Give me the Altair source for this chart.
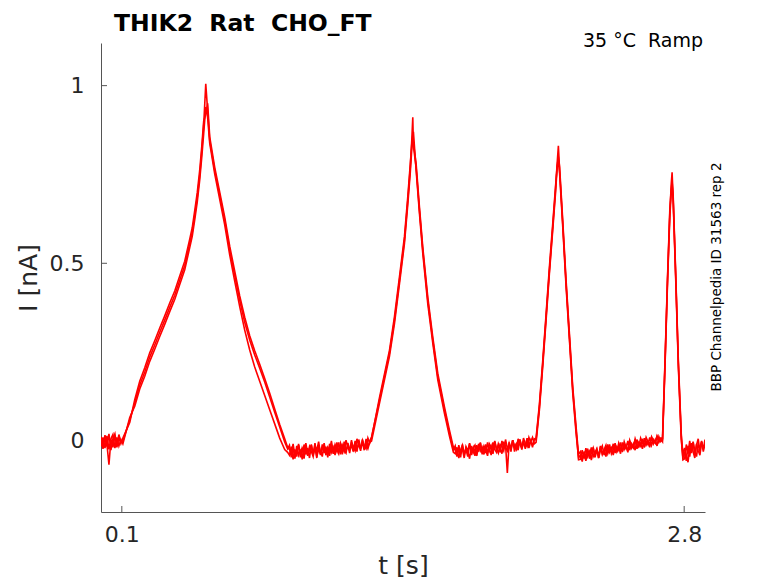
import altair as alt
import numpy as np
import pandas as pd

TITLE = "THIK2\u00a0\u00a0Rat\u00a0\u00a0CHO_FT"
TEMP_LABEL = "35 °C\u00a0\u00a0Ramp"
SIDE_LABEL = "BBP Channelpedia ID 31563 rep 2"
X_TICKS = [0.1, 2.8]
Y_TICKS = [0, 0.5, 1]
X_DOMAIN = [0.0, 2.9]
Y_DOMAIN = [-0.2, 1.12]

# ramp key points (time in s), shared by the sweeps
R1_T = [0.105, 0.138, 0.162, 0.186, 0.210, 0.234, 0.258, 0.282, 0.306, 0.330,
        0.354, 0.378, 0.402, 0.426, 0.438, 0.450, 0.462, 0.474, 0.484, 0.493,
        0.503, 0.512, 0.522, 0.546, 0.570, 0.594, 0.618, 0.642, 0.666, 0.690,
        0.714, 0.738, 0.762, 0.786, 0.810, 0.834, 0.858, 0.882, 0.896]
R2_T = [1.299, 1.337, 1.385, 1.409, 1.433, 1.457, 1.473, 1.485, 1.492, 1.497,
        1.500, 1.513, 1.529, 1.545, 1.569, 1.593, 1.617, 1.649, 1.673, 1.692]
R3_T = [2.089, 2.105, 2.121, 2.137, 2.153, 2.169, 2.182, 2.190, 2.196, 2.202,
        2.217, 2.233, 2.249, 2.265, 2.281, 2.293]
R4_T = [2.696, 2.708, 2.720, 2.731, 2.738, 2.742, 2.747, 2.760, 2.772, 2.786, 2.794]

# baseline segments (start, end) in s
SEGMENTS = [(0.0, 0.105), (0.896, 1.299), (1.692, 2.089), (2.293, 2.696), (2.794, 2.9)]

# ---- sweep A ----
A_R1 = [0.00, 0.059, 0.107, 0.157, 0.194, 0.236, 0.27, 0.306, 0.34, 0.376,
        0.41, 0.452, 0.494, 0.556, 0.587, 0.635, 0.685, 0.747, 0.817, 0.888,
        1.005, 0.93, 0.846, 0.761, 0.691, 0.621, 0.537, 0.466, 0.396, 0.334,
        0.284, 0.242, 0.205, 0.166, 0.124, 0.081, 0.039, -0.003, -0.022]
A_R2 = [0.011, 0.115, 0.247, 0.34, 0.452, 0.565, 0.677, 0.77, 0.845, 0.911,
        0.83, 0.77, 0.649, 0.537, 0.396, 0.284, 0.181, 0.087, 0.022, -0.025]
A_R3 = [0.003, 0.096, 0.218, 0.349, 0.48, 0.602, 0.705, 0.78, 0.831, 0.761,
        0.611, 0.443, 0.293, 0.143, 0.031, -0.053]
A_R4 = [0.003, 0.218, 0.452, 0.64, 0.724, 0.756, 0.686, 0.452, 0.218, 0.012, -0.053]
A_B0 = [0.012, -0.014, 0.016, -0.01, -0.067, 0.004, -0.018, 0.014, -0.012, 0.018, -0.004]
A_B1 = [-0.012, -0.046, -0.018, -0.05, -0.014, -0.04, -0.024, -0.052, -0.01, -0.038,
        -0.02, -0.048, -0.012, -0.036, -0.006, -0.044, -0.02, -0.04, -0.01, -0.034,
        -0.016, -0.046, -0.008, -0.032, -0.018, -0.04, -0.004, -0.03, -0.014, -0.038,
        -0.002, -0.028, -0.012, -0.034, 0.002, -0.024, -0.008, -0.03, 0.004, -0.02,
        -0.006, -0.026, 0.006, -0.016, 0.0]
A_B2 = [-0.014, -0.04, -0.02, -0.046, -0.01, -0.036, -0.024, -0.044, -0.008, -0.032,
        -0.018, -0.042, -0.012, -0.03, -0.006, -0.038, -0.016, -0.034, -0.004, -0.028,
        -0.014, -0.036, -0.002, -0.026, -0.012, -0.032, 0.0, -0.022, -0.01, -0.09,
        -0.004, -0.024, 0.002, -0.018, -0.008, -0.026, 0.004, -0.016, -0.004, -0.022,
        0.008, -0.012, 0.002, -0.018, 0.006]
A_B3 = [-0.052, -0.026, -0.05, -0.02, -0.044, -0.03, -0.054, -0.018, -0.04, -0.024,
        -0.048, -0.014, -0.036, -0.026, -0.044, -0.01, -0.032, -0.02, -0.04, -0.006,
        -0.03, -0.016, -0.036, -0.004, -0.024, -0.012, -0.032, 0.0, -0.02, -0.008,
        -0.026, 0.004, -0.016, -0.006, -0.022, 0.008, -0.012, -0.002, -0.018, 0.01,
        -0.008, 0.004, -0.014, 0.012, -0.002]
A_B4 = [-0.05, -0.01, -0.036, 0.0, -0.032, -0.004, -0.04, -0.012, 0.006, -0.03,
        -0.002, -0.024, 0.004]

# ---- sweep B ----
B_R1 = [-0.008, 0.066, 0.098, 0.146, 0.182, 0.224, 0.258, 0.294, 0.328, 0.364,
        0.398, 0.44, 0.482, 0.544, 0.576, 0.622, 0.672, 0.735, 0.80, 0.865,
        0.94, 0.91, 0.838, 0.752, 0.68, 0.608, 0.524, 0.45, 0.378, 0.312,
        0.256, 0.208, 0.168, 0.128, 0.088, 0.048, 0.008, -0.024, -0.032]
B_R2 = [0.0, 0.106, 0.238, 0.33, 0.442, 0.556, 0.666, 0.756, 0.82, 0.85,
        0.87, 0.762, 0.64, 0.528, 0.386, 0.275, 0.172, 0.078, 0.014, -0.032]
B_R3 = [-0.004, 0.088, 0.21, 0.34, 0.472, 0.594, 0.695, 0.768, 0.79, 0.752,
        0.602, 0.434, 0.285, 0.135, 0.022, -0.048]
B_R4 = [-0.002, 0.21, 0.444, 0.63, 0.70, 0.72, 0.678, 0.444, 0.21, 0.004, -0.048]
B_B0 = [-0.016, 0.01, -0.02, 0.014, -0.024, 0.006, 0.018, -0.02, 0.01, -0.014, 0.004]
B_B1 = [-0.04, -0.016, -0.052, -0.024, -0.044, -0.008, -0.036, -0.02, -0.05, -0.014,
        -0.042, -0.026, -0.01, -0.04, -0.018, -0.048, -0.012, -0.03, -0.044, -0.006,
        -0.034, -0.022, -0.042, -0.01, -0.036, -0.016, -0.03, -0.004, -0.038, -0.012,
        -0.026, -0.034, -0.006, -0.024, -0.014, -0.03, 0.0, -0.022, -0.01, -0.028,
        0.004, -0.018, -0.008, -0.022, -0.004]
B_B2 = [-0.036, -0.018, -0.048, -0.026, -0.012, -0.04, -0.02, -0.03, -0.05, -0.014,
        -0.034, -0.022, -0.042, -0.008, -0.028, -0.018, -0.038, -0.01, -0.03, -0.02,
        -0.04, -0.004, -0.024, -0.032, -0.008, -0.02, -0.036, -0.002, -0.018, -0.028,
        -0.006, -0.022, 0.002, -0.03, -0.01, -0.016, 0.004, -0.024, -0.006, -0.014,
        0.006, -0.02, -0.002, 0.01, -0.008]
B_B3 = [-0.04, -0.058, -0.03, -0.046, -0.022, -0.05, -0.034, -0.02, -0.046, -0.028,
        -0.04, -0.016, -0.038, -0.024, -0.012, -0.036, -0.02, -0.03, -0.008, -0.034,
        -0.016, -0.026, -0.004, -0.03, -0.012, -0.022, 0.0, -0.026, -0.008, -0.018,
        0.004, -0.022, -0.004, -0.014, 0.006, -0.018, 0.0, -0.01, 0.01, -0.012,
        0.004, -0.006, 0.012, -0.004, 0.006]
B_B4 = [-0.03, -0.056, -0.014, -0.044, -0.006, -0.03, -0.048, -0.008, -0.026, -0.04,
        -0.004, -0.018, -0.01]

# ---- sweep C ----
C_R1 = [0.008, 0.052, 0.116, 0.168, 0.206, 0.248, 0.282, 0.318, 0.352, 0.388,
        0.422, 0.464, 0.506, 0.568, 0.6, 0.648, 0.698, 0.762, 0.83, 0.90,
        0.92, 0.95, 0.856, 0.77, 0.7, 0.63, 0.548, 0.478, 0.408, 0.348,
        0.296, 0.254, 0.216, 0.176, 0.134, 0.09, 0.046, 0.006, -0.018]
C_R2 = [0.008, 0.122, 0.255, 0.35, 0.462, 0.575, 0.688, 0.78, 0.835, 0.86,
        0.84, 0.78, 0.658, 0.545, 0.405, 0.292, 0.19, 0.096, 0.03, -0.018]
C_R3 = [0.008, 0.104, 0.226, 0.357, 0.49, 0.612, 0.714, 0.772, 0.80, 0.77,
        0.62, 0.452, 0.302, 0.152, 0.04, -0.038]
C_R4 = [0.008, 0.226, 0.46, 0.65, 0.71, 0.73, 0.694, 0.46, 0.226, 0.02, -0.038]
C_B0 = [0.004, -0.022, 0.012, -0.016, 0.02, -0.026, 0.006, 0.02, -0.018, 0.01, -0.008]
C_B1 = [-0.024, -0.034, -0.008, -0.042, -0.026, -0.012, -0.046, -0.02, -0.032, -0.006,
        -0.038, -0.016, -0.03, -0.044, -0.014, -0.026, -0.002, -0.036, -0.022, -0.012,
        -0.04, -0.018, -0.028, 0.0, -0.032, -0.01, -0.024, -0.036, -0.006, -0.02,
        -0.03, 0.002, -0.018, -0.026, -0.004, -0.016, -0.028, 0.006, -0.012, -0.02,
        0.002, -0.014, -0.022, 0.008, -0.006]
C_B2 = [-0.026, -0.044, -0.012, -0.034, -0.022, -0.048, -0.016, -0.028, -0.006, -0.04,
        -0.02, -0.012, -0.036, -0.024, -0.004, -0.032, -0.014, -0.026, -0.042, -0.008,
        -0.018, -0.03, 0.0, -0.022, -0.034, -0.01, -0.016, -0.028, 0.004, -0.02,
        -0.012, -0.03, 0.002, -0.014, -0.024, 0.006, -0.01, -0.02, 0.008, -0.008,
        -0.016, 0.01, -0.004, -0.012, 0.004]
C_B3 = [-0.03, -0.046, -0.038, -0.056, -0.028, -0.04, -0.018, -0.044, -0.032, -0.022,
        -0.048, -0.026, -0.014, -0.04, -0.02, -0.03, -0.01, -0.036, -0.024, -0.012,
        -0.032, -0.006, -0.022, -0.028, -0.002, -0.018, -0.024, 0.002, -0.014, -0.02,
        0.006, -0.01, -0.016, 0.008, -0.006, -0.014, 0.01, -0.002, -0.008, 0.012,
        0.0, -0.006, 0.014, 0.002, 0.008]
C_B4 = [-0.02, -0.04, -0.06, -0.018, -0.034, -0.002, -0.028, -0.044, -0.01, -0.022,
        0.0, -0.03, -0.008]

SWEEPS = {
    "A": (A_B0, A_R1, A_B1, A_R2, A_B2, A_R3, A_B3, A_R4, A_B4),
    "B": (B_B0, B_R1, B_B1, B_R2, B_B2, B_R3, B_B3, B_R4, B_B4),
    "C": (C_B0, C_R1, C_B1, C_R2, C_B2, C_R3, C_B3, C_R4, C_B4),
}


def baseline_times(seg_idx, n):
    a, b = SEGMENTS[seg_idx]
    if seg_idx == 0:
        return list(np.linspace(a, b, n + 1)[:-1])
    if seg_idx == len(SEGMENTS) - 1:
        return list(np.linspace(a, b, n + 1)[1:])
    return list(np.linspace(a, b, n + 2)[1:-1])


rows = []
ramp_times = [R1_T, R2_T, R3_T, R4_T]
for name, parts in SWEEPS.items():
    ts, vs = [], []
    for k in range(5):
        base = parts[2 * k]
        ts += baseline_times(k, len(base))
        vs += list(base)
        if k < 4:
            ramp = parts[2 * k + 1]
            n = min(len(ramp), len(ramp_times[k]))
            ts += list(ramp_times[k][:n])
            vs += list(ramp[:n])
    for i, (t, v) in enumerate(zip(ts, vs)):
        rows.append({"sweep": name, "idx": i, "t": float(t), "I": float(v)})
df = pd.DataFrame(rows)

FONT = "DejaVu Sans"
AX = "#555555"
TXT = "#262626"

x_scale = alt.Scale(domain=X_DOMAIN, nice=False, zero=False)
y_scale = alt.Scale(domain=Y_DOMAIN, nice=False, zero=False)

x_axis = alt.Axis(values=X_TICKS, format="~g", grid=False, ticks=False,
                  domainColor=AX, domainWidth=1, labelFontSize=22, labelColor=TXT,
                  labelFont=FONT, labelPadding=12, titleFontSize=25, titleColor=TXT,
                  titleFont=FONT, titleFontWeight="normal", titlePadding=8,
                  labelFlush=False)
y_axis = alt.Axis(values=Y_TICKS, format="~g", grid=False, ticks=False,
                  domainColor=AX, domainWidth=1, labelFontSize=22, labelColor=TXT,
                  labelFont=FONT, labelPadding=17, titleFontSize=25, titleColor=TXT,
                  titleFont=FONT, titleFontWeight="normal", titlePadding=8,
                  labelFlush=False)

traces = alt.Chart(df).mark_line(color="#ff0000", strokeWidth=1.6, clip=True).encode(
    x=alt.X("t:Q", scale=x_scale, axis=x_axis, title="t [s]"),
    y=alt.Y("I:Q", scale=y_scale, axis=y_axis, title="I [nA]"),
    detail="sweep:N",
    order="idx:Q",
)

ytick_df = pd.DataFrame({"I": Y_TICKS})
yticks = alt.Chart(ytick_df).mark_rule(color=AX, strokeWidth=1).encode(
    y=alt.Y("I:Q", scale=y_scale, title="I [nA]"),
    x=alt.value(0), x2=alt.value(6),
)
xtick_df = pd.DataFrame({"t": X_TICKS})
xticks = alt.Chart(xtick_df).mark_rule(color=AX, strokeWidth=1).encode(
    x=alt.X("t:Q", scale=x_scale, title="t [s]"),
    y=alt.value(469), y2=alt.value(463),
)

title_text = alt.Chart(pd.DataFrame({"s": [TITLE]})).mark_text(
    align="left", baseline="alphabetic", font=FONT, fontSize=23.5, fontWeight="bold",
    color="black"
).encode(text="s:N", x=alt.value(13), y=alt.value(-12))

temp_text = alt.Chart(pd.DataFrame({"s": [TEMP_LABEL]})).mark_text(
    align="right", baseline="alphabetic", font=FONT, fontSize=19, color="black"
).encode(text="s:N", x=alt.value(602), y=alt.value(4))

side_text = alt.Chart(pd.DataFrame({"s": [SIDE_LABEL]})).mark_text(
    align="center", baseline="middle", angle=270, font=FONT, fontSize=13.5, color="black"
).encode(text="s:N", x=alt.value(616), y=alt.value(234))

chart = alt.layer(yticks, xticks, traces, title_text, temp_text, side_text).properties(
    width=604,
    height=469,
    background="white",
    autosize=alt.AutoSizeParams(type="none"),
    padding={"left": 93, "top": 35, "right": 60, "bottom": 70},
).configure_view(strokeWidth=0, stroke="transparent")

chart.save("out.html", embed_options={"renderer": "svg", "actions": False})
